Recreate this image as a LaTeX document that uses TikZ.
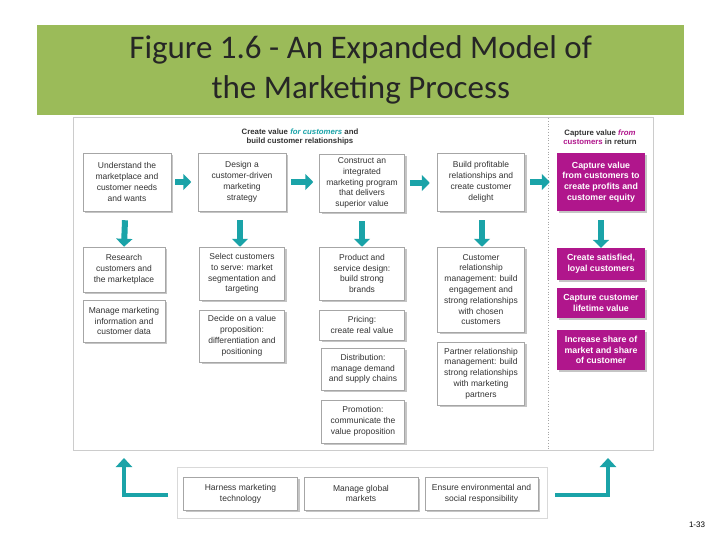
\documentclass[tikz,border=0pt]{standalone}
\usepackage{fontspec}
\setmainfont{Liberation Sans}
\newfontfamily\titlefont{Carlito}
\usetikzlibrary{arrows.meta,shadows}
\definecolor{tealc}{HTML}{1AA3A8}
\definecolor{magc}{HTML}{B0168C}
\definecolor{greenc}{HTML}{9BBB59}
\tikzset{
 box/.style={draw=gray!70, fill=white, line width=0.5pt, drop shadow={shadow xshift=2pt,shadow yshift=-2pt,opacity=0.45},
   align=center, font=\fontsize{8.5}{10.8}\selectfont, text=black!80, inner sep=1pt},
 mbox/.style={fill=magc, align=center, font=\fontsize{8.8}{10.8}\selectfont\bfseries, text=white, inner sep=1pt,
   drop shadow={shadow xshift=2pt,shadow yshift=-2pt,opacity=0.45}},
 tarrow/.style={tealc, line width=6pt, -{Triangle[length=8pt,width=16pt]}},
 larrow/.style={tealc, line width=4.5pt, -{Triangle[length=9pt,width=16pt]}},
}
\begin{document}
\begin{tikzpicture}[x=1pt,y=-1pt]
\useasboundingbox (0,0) rectangle (720,540);
\fill[white] (0,0) rectangle (720,540);
\node[fill=greenc, minimum width=647pt, minimum height=90pt, inner sep=0pt, anchor=north west,
  font=\titlefont\fontsize{33}{40}\selectfont, align=center, text=black!85] (title) at (37,25)
  {Figure 1.6 - An Expanded Model of\\the Marketing Process};
\draw[gray!40, line width=0.8pt] (73,117) rectangle (653,450);
\draw[gray!70, dotted, line width=0.8pt] (548,118) -- (548,450);
\node[font=\fontsize{7.8}{9.5}\selectfont\bfseries, align=center, text=black!80] (h1) at (300,137)
 {Create value \textcolor{tealc}{\itshape for customers} and\\build customer relationships};
\node[font=\fontsize{7.8}{9.5}\selectfont\bfseries, align=center, text=black!80] (h2) at (600,137)
 {Capture value \textcolor{magc}{\itshape from}\\\textcolor{magc}{customers} in return};
% row 1
\node[box, minimum width=88pt, minimum height=58pt] (a1) at (127,182) {Understand the\\marketplace and\\customer needs\\and wants};
\node[box, minimum width=88pt, minimum height=58pt] (a2) at (242,182) {Design a\\customer-driven\\marketing\\strategy};
\node[box, minimum width=85pt, minimum height=58pt] (a3) at (362,183) {Construct an\\integrated\\marketing program\\that delivers\\superior value};
\node[box, minimum width=87pt, minimum height=58pt] (a4) at (481,182) {Build profitable\\relationships and\\create customer\\delight};
\node[mbox, minimum width=88pt, minimum height=58pt] (a5) at (601,182) {Capture value\\from customers to\\create profits and\\customer equity};
\draw[tarrow] (a1.east)++(4,0) -- ++(16,0);
\draw[tarrow] (a2.east)++(5,0) -- ++(22,0);
\draw[tarrow] (a3.east)++(5,0) -- ++(20,0);
\draw[tarrow] (a4.east)++(5,0) -- ++(20,0);
% rows
\node[box, minimum width=82pt, minimum height=45pt] (b1) at (124,269.5) {Research\\customers and\\the marketplace};
\node[box, minimum width=82pt, minimum height=42pt] (b2) at (124,321) {Manage marketing\\information and\\customer data};
\node[box, minimum width=85pt, minimum height=53pt] (c1) at (242,273.5) {Select customers\\to serve: market\\segmentation and\\targeting};
\node[box, minimum width=85pt, minimum height=52pt] (c2) at (242,336) {Decide on a value\\proposition:\\differentiation and\\positioning};
\node[box, minimum width=85pt, minimum height=53pt] (d1) at (362,273.5) {Product and\\service design:\\build strong\\brands};
\node[box, minimum width=85pt, minimum height=30pt] (d2) at (362,325) {Pricing:\\create real value};
\node[box, minimum width=83pt, minimum height=42pt] (d3) at (363,369) {Distribution:\\manage demand\\and supply chains};
\node[box, minimum width=83pt, minimum height=43pt] (d4) at (363,421.5) {Promotion:\\communicate the\\value proposition};
\node[box, minimum width=87pt, minimum height=85pt] (e1) at (481,289.5) {Customer\\relationship\\management: build\\engagement and\\strong relationships\\with chosen\\customers};
\node[box, minimum width=87pt, minimum height=63pt] (e2) at (481,373.5) {Partner relationship\\management: build\\strong relationships\\with marketing\\partners};
\node[mbox, minimum width=88pt, minimum height=32pt] (f1) at (601,264) {Create satisfied,\\loyal customers};
\node[mbox, minimum width=88pt, minimum height=30pt] (f2) at (601,303) {Capture customer\\lifetime value};
\node[mbox, minimum width=88pt, minimum height=40pt] (f3) at (601,350) {Increase share of\\market and share\\of customer};
% down arrows
\draw[tarrow] (a1.south)++(-2,9) -- (b1.north);
\draw[tarrow] (a2.south)++(-2,9) -- (c1.north -| 240,0);
\draw[tarrow] (a3.south)++(0,9) -- (d1.north);
\draw[tarrow] (a4.south)++(1,9) -- (e1.north -| 482,0);
\draw[tarrow] (a5.south)++(0,9) -- (f1.north);
% bottom panel
\draw[gray!30, fill=white] (177,467) rectangle (547,518);
\node[box, minimum width=114pt, minimum height=33pt] (g1) at (240.5,493.5) {Harness marketing\\technology};
\node[box, minimum width=114pt, minimum height=33pt] (g2) at (361,493.5) {Manage global\\markets};
\node[box, minimum width=113pt, minimum height=33pt] (g3) at (481.5,493.5) {Ensure environmental and\\social responsibility};
\coordinate (l1) at (168,495); \coordinate (l2) at (124,495); \coordinate (l3) at (124,458);
\coordinate (r1) at (555,495); \coordinate (r2) at (608,495); \coordinate (r3) at (608,458);
\draw[larrow] (l1) -- (l2) -- (l3);
\draw[larrow] (r1) -- (r2) -- (r3);
\node[font=\fontsize{8}{10}\selectfont] (pg) at (697,525) {1-33};
\end{tikzpicture}
\end{document}
